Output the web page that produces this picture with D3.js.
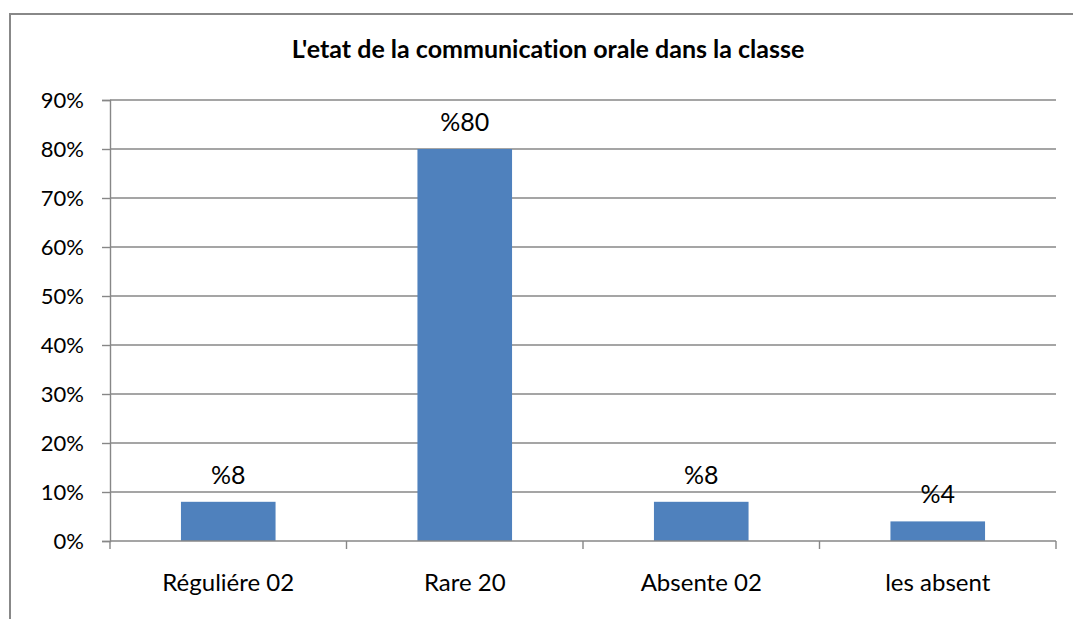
<!DOCTYPE html>
<html>
<head>
<meta charset="utf-8">
<script src="https://cdnjs.cloudflare.com/ajax/libs/d3/7.8.5/d3.min.js"></script>
<style>
  html, body { margin: 0; padding: 0; background: #fff; }
  svg { display: block; font-family: Lato, 'Open Sans', sans-serif; font-variant-ligatures: none; }
</style>
</head>
<body>
<div id="chart-div"></div>
<script>
'use strict';

var chartTitle = "L'etat de la communication orale dans la classe";
var categories = ['Réguliére 02', 'Rare 20', 'Absente 02', 'les absent'];
var values = [0.08, 0.80, 0.08, 0.04];
var valueLabels = ['%8', '%80', '%8', '%4'];
var yTicks = [0, 0.1, 0.2, 0.3, 0.4, 0.5, 0.6, 0.7, 0.8, 0.9];

var chartHelper;

chartHelper = {
  initialize: function() {
    var w, h, left, right, top, bottom, svg, x, y, barColor, gridColor, i, edges;

    w = 1073;
    h = 619;
    left = 110;
    right = 1056;
    top = 100;
    bottom = 541;
    barColor = '#4F81BD';
    gridColor = '#878787';

    svg = d3.select('#chart-div')
      .append('svg')
      .attr('width', w)
      .attr('height', h)
      .attr('viewBox', '0 0 ' + w + ' ' + h);

    // outer chart frame (only top and left edges are inside the picture)
    svg.append('rect')
      .attr('x', 10)
      .attr('y', 14)
      .attr('width', 1100)
      .attr('height', 700)
      .attr('fill', 'white')
      .attr('stroke', '#888888')
      .attr('stroke-width', 2);

    x = d3.scaleBand()
      .domain(categories)
      .range([left, right])
      .paddingInner(0.6)
      .paddingOuter(0.3);

    y = d3.scaleLinear()
      .domain([0, 0.9])
      .range([bottom, top]);

    // title
    svg.append('text')
      .attr('x', 548)
      .attr('y', 58)
      .attr('text-anchor', 'middle')
      .attr('font-weight', 'bold')
      .attr('font-size', 25)
      .attr('fill', 'black')
      .text(chartTitle);

    // gridlines
    svg.append('g')
      .selectAll('line')
      .data(yTicks.slice(1))
      .enter()
      .append('line')
      .attr('x1', left)
      .attr('x2', right)
      .attr('y1', function(d) { return y(d); })
      .attr('y2', function(d) { return y(d); })
      .attr('stroke', gridColor)
      .attr('stroke-width', 1.4);

    // y axis
    svg.append('g')
      .attr('transform', 'translate(' + left + ',0)')
      .call(d3.axisLeft(y)
        .tickValues(yTicks)
        .tickFormat(d3.format('.0%'))
        .tickSize(8)
        .tickPadding(18))
      .call(function(g) {
        g.select('.domain').attr('stroke', gridColor).attr('stroke-width', 1.4);
        g.selectAll('.tick line').attr('stroke', gridColor).attr('stroke-width', 1.4);
        g.selectAll('.tick text')
          .attr('font-size', 22)
          .attr('font-family', 'Lato, sans-serif')
          .attr('fill', 'black');
      });

    // bars
    svg.append('g')
      .selectAll('rect')
      .data(values)
      .enter()
      .append('rect')
      .attr('x', function(d, j) { return x(categories[j]); })
      .attr('y', function(d) { return y(d); })
      .attr('width', x.bandwidth())
      .attr('height', function(d) { return y(0) - y(d); })
      .attr('fill', barColor);

    // data labels
    svg.append('g')
      .selectAll('text')
      .data(values)
      .enter()
      .append('text')
      .attr('x', function(d, j) { return x(categories[j]) + x.bandwidth() / 2; })
      .attr('y', function(d) { return y(d) - 18; })
      .attr('text-anchor', 'middle')
      .attr('font-size', 25)
      .attr('fill', 'black')
      .text(function(d, j) { return valueLabels[j]; });

    // x axis line with ticks between categories
    svg.append('line')
      .attr('x1', left)
      .attr('x2', right)
      .attr('y1', bottom)
      .attr('y2', bottom)
      .attr('stroke', gridColor)
      .attr('stroke-width', 1.4);

    edges = [];
    for (i = 0; i < categories.length; i++) {
      edges.push(x(categories[i]) - x.step() * x.paddingInner() / 2);
    }
    edges.push(right);

    svg.append('g')
      .selectAll('line')
      .data(edges)
      .enter()
      .append('line')
      .attr('x1', function(d) { return d; })
      .attr('x2', function(d) { return d; })
      .attr('y1', bottom)
      .attr('y2', bottom + 8)
      .attr('stroke', gridColor)
      .attr('stroke-width', 1.4);

    svg.append('g')
      .selectAll('text')
      .data(categories)
      .enter()
      .append('text')
      .attr('x', function(d) { return x(d) + x.bandwidth() / 2; })
      .attr('y', 591)
      .attr('text-anchor', 'middle')
      .attr('font-size', 24)
      .attr('fill', 'black')
      .text(function(d) { return d; });
  }
};

chartHelper.initialize();
</script>
</body>
</html>
